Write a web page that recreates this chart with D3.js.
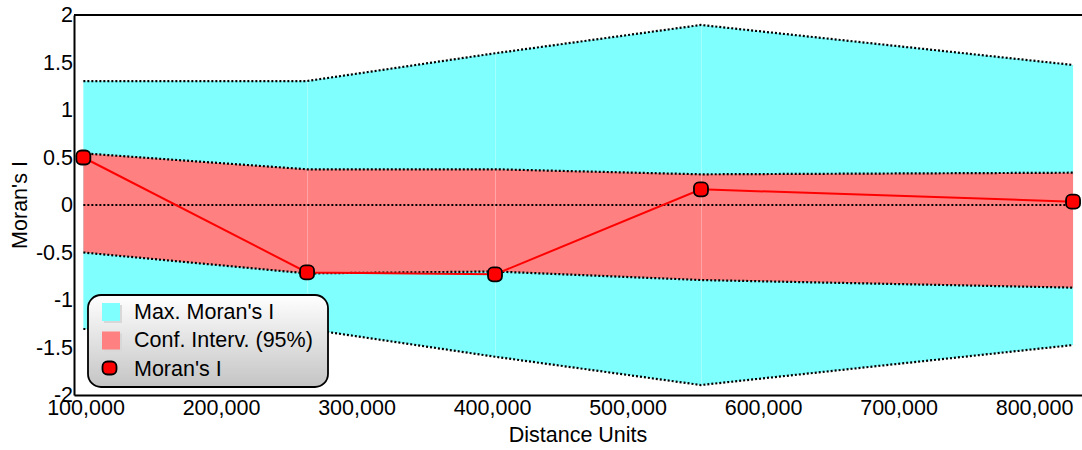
<!DOCTYPE html>
<html>
<head>
<meta charset="utf-8">
<script src="https://cdn.jsdelivr.net/npm/d3@7"></script>
<style>
  body { margin: 0; background: #fff; }
  svg { display: block; }
</style>
</head>
<body>
<script>
// chart data
var distances = [98400, 263500, 402200, 554200, 828800];
var maxUpper = [1.305, 1.305, 1.597, 1.895, 1.474];
var maxLower = [-1.305, -1.305, -1.597, -1.895, -1.474];
var confUpper = [0.544, 0.376, 0.376, 0.323, 0.34];
var confLower = [-0.50, -0.72, -0.70, -0.79, -0.87];
var moransI = [0.50, -0.71, -0.73, 0.165, 0.035];
var zeroLine = [0, 0, 0, 0, 0];

var xTicks = [100000, 200000, 300000, 400000, 500000, 600000, 700000, 800000];
var yTicks = [-2, -1.5, -1, -0.5, 0, 0.5, 1, 1.5, 2];
var legendLabels = ["Max. Moran's I", "Conf. Interv. (95%)", "Moran's I"];

var w = 1082, h = 450;
var plotLeft = 74, plotRight = 1082, plotTop = 15, plotBottom = 395;
var font = "'Liberation Sans', Arial, sans-serif";
var fs = 21.5;

var svg = d3.select("body").append("svg")
    .attr("width", w)
    .attr("height", h);

var x = d3.scaleLinear().domain([91500, 835400]).range([plotLeft, plotRight]);
var y = d3.scaleLinear().domain([-2, 2]).range([plotBottom, plotTop]);

var rows = distances.map(function(d, i) {
  return { d: d, mu: maxUpper[i], ml: maxLower[i], cu: confUpper[i], cl: confLower[i], m: moransI[i], z: zeroLine[i] };
});

// bands
var maxArea = d3.area().x(r => x(r.d)).y0(r => y(r.ml)).y1(r => y(r.mu));
var confArea = d3.area().x(r => x(r.d)).y0(r => y(r.cl)).y1(r => y(r.cu));

svg.append("path").datum(rows).attr("d", maxArea).attr("fill", "#80ffff");
svg.append("path").datum(rows).attr("d", confArea).attr("fill", "#ff8080");

// faint seams between band segments
svg.selectAll("line.seam")
   .data(rows.slice(1, -1))
   .enter()
   .append("line")
   .attr("class", "seam")
   .attr("x1", r => x(r.d) + 0.5).attr("x2", r => x(r.d) + 0.5)
   .attr("y1", r => y(r.mu)).attr("y2", r => y(r.ml))
   .attr("stroke", "#fff")
   .attr("stroke-opacity", 0.3)
   .attr("stroke-width", 1);

// dotted boundary lines
["mu", "ml", "cu", "cl", "z"].forEach(function(k) {
  svg.append("path").datum(rows)
     .attr("d", d3.line().x(r => x(r.d)).y(r => y(r[k])))
     .attr("fill", "none")
     .attr("stroke", "#000")
     .attr("stroke-width", 2.2)
     .attr("stroke-dasharray", "2,2");
});

// Moran's I line + markers
svg.append("path").datum(rows)
   .attr("d", d3.line().x(r => x(r.d)).y(r => y(r.m)))
   .attr("fill", "none")
   .attr("stroke", "#ff0000")
   .attr("stroke-width", 2);

svg.selectAll("rect.pt")
   .data(rows)
   .enter()
   .append("rect")
   .attr("class", "pt")
   .attr("x", r => x(r.d) - 7)
   .attr("y", r => y(r.m) - 7)
   .attr("width", 14)
   .attr("height", 14)
   .attr("rx", 5)
   .attr("fill", "#ff0000")
   .attr("stroke", "#000")
   .attr("stroke-width", 1.8);

// axes
var yAxis = svg.append("g")
   .attr("transform", "translate(" + plotLeft + ",0)")
   .call(d3.axisLeft(y).tickValues(yTicks).tickSize(0).tickSizeOuter(0).tickPadding(1)
         .tickFormat(d => String(d)));

var xAxis = svg.append("g")
   .attr("transform", "translate(0," + plotBottom + ")")
   .call(d3.axisBottom(x).tickValues(xTicks).tickSize(0).tickSizeOuter(0).tickPadding(5)
         .tickFormat(d3.format(",")));

[yAxis, xAxis].forEach(function(g) {
  g.attr("font-size", fs).attr("font-family", font);
  g.select(".domain").attr("stroke", "#000").attr("stroke-width", 2);
  g.selectAll("text").attr("fill", "#000");
});

svg.append("line")
   .attr("x1", plotLeft).attr("x2", plotRight)
   .attr("y1", plotTop).attr("y2", plotTop)
   .attr("stroke", "#000").attr("stroke-width", 2);

// axis titles
svg.append("text")
   .text("Distance Units")
   .attr("x", (plotLeft + plotRight) / 2)
   .attr("y", 442)
   .attr("text-anchor", "middle")
   .attr("font-family", font)
   .attr("font-size", fs);

svg.append("text")
   .text("Moran's I")
   .attr("transform", "translate(27," + (plotTop + plotBottom) / 2 + ") rotate(-90)")
   .attr("text-anchor", "middle")
   .attr("font-family", font)
   .attr("font-size", fs);

// legend
var defs = svg.append("defs");
var grad = defs.append("linearGradient").attr("id", "lg").attr("x1", 0).attr("y1", 0).attr("x2", 0).attr("y2", 1);
grad.append("stop").attr("offset", "0%").attr("stop-color", "#ffffff");
grad.append("stop").attr("offset", "100%").attr("stop-color", "#c4c4c4");

var legend = svg.append("g").attr("transform", "translate(88,295)");
legend.append("rect")
   .attr("width", 240).attr("height", 92)
   .attr("rx", 13)
   .attr("fill", "url(#lg)")
   .attr("stroke", "#000")
   .attr("stroke-width", 1.8);

var swatchColors = ["#80ffff", "#ff8080"];
swatchColors.forEach(function(c, i) {
  legend.append("rect")
     .attr("x", 16).attr("y", 10 + i * 28.5)
     .attr("width", 18).attr("height", 18)
     .attr("fill", "#d8d8d8");
  legend.append("rect")
     .attr("x", 14).attr("y", 8 + i * 28.5)
     .attr("width", 18).attr("height", 18)
     .attr("fill", c);
});
legend.append("rect")
   .attr("x", 14.5).attr("y", 66.5)
   .attr("width", 14).attr("height", 13)
   .attr("rx", 5)
   .attr("fill", "#ff0000")
   .attr("stroke", "#000")
   .attr("stroke-width", 1.8);

legend.selectAll("text.lbl")
   .data(legendLabels)
   .enter()
   .append("text")
   .attr("class", "lbl")
   .text(d => d)
   .attr("x", 46)
   .attr("y", (d, i) => 23.5 + i * 28.5)
   .attr("font-family", font)
   .attr("font-size", fs)
   .attr("fill", "#000");
</script>
</body>
</html>
